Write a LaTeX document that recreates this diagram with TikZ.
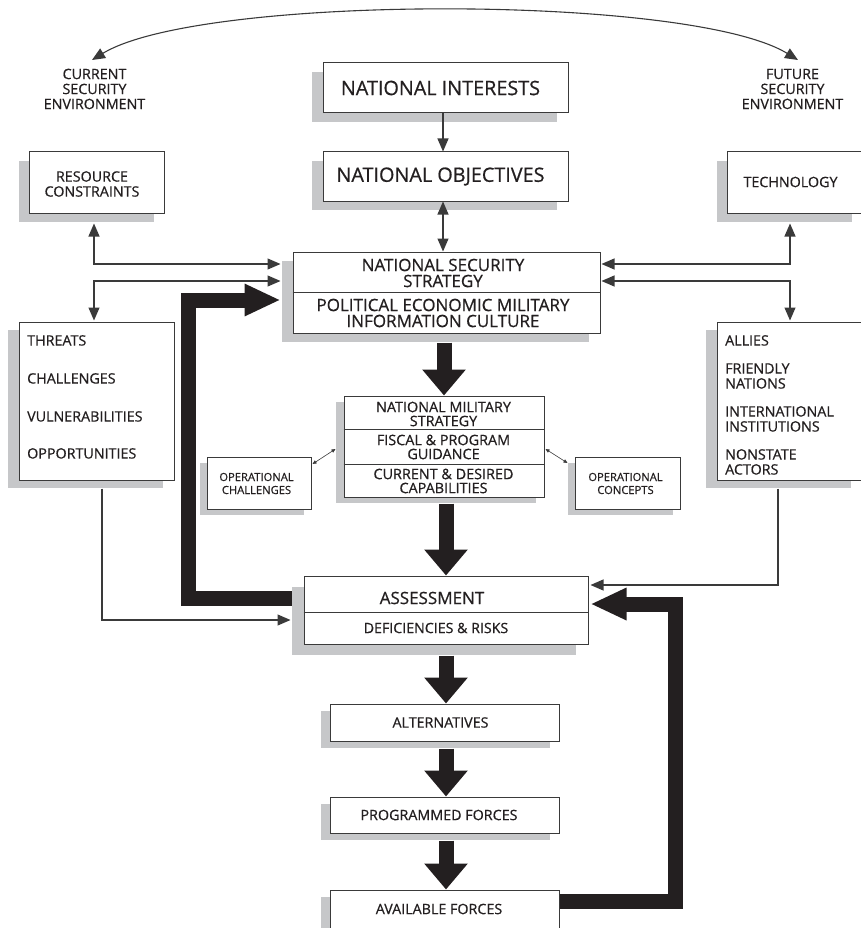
\documentclass[tikz,border=0pt]{standalone}
\usepackage{fontspec}
\setmainfont{Open Sans}[FakeBold=0.6]
\usetikzlibrary{arrows.meta,calc,shadows}
\definecolor{ink}{HTML}{231F20}
\definecolor{linec}{HTML}{3A3A3A}
\definecolor{shade}{HTML}{C6C7C9}
\newcommand\fbig{\fontsize{19.8}{22}\selectfont}
\newcommand\fmid{\fontsize{17}{16}\selectfont}
\newcommand\fsm{\fontsize{14.3}{15}\selectfont}
\newcommand\fnms{\fontsize{14.4}{14}\selectfont}
\newcommand\fdef{\fontsize{14.2}{15}\selectfont}
\newcommand\ftiny{\fontsize{11.2}{13}\selectfont}
\begin{document}
\begin{tikzpicture}[x=1pt,y=-1pt,
  box/.style 2 args={draw=linec,line width=1pt,fill=white,inner sep=0pt,
     drop shadow={shadow xshift=#1,shadow yshift=#2,fill=shade,opacity=1}},
  txt/.style={inner sep=0pt,text=ink,align=center},
  ltxt/.style={inner sep=0pt,text=ink,align=left,anchor=north west},
  divl/.style={draw=linec,line width=1pt},
  thin/.style={draw=linec,line width=1.1pt},
  fat/.style={draw=ink,line width=15pt,line join=miter},
  vhead/.style={-{Triangle[length=26pt,width=42pt]}},
  hhead/.style={-{Triangle[length=36pt,width=30pt]}},
  small/.style={draw=linec,line width=0.6pt,{Triangle[length=4pt,width=3.5pt]}-{Triangle[length=4pt,width=3.5pt]}},
  >={Triangle[length=13pt,width=11pt]}]
\useasboundingbox (0,0) rectangle (861,928);

% ---------- boxes ----------
\node[box={-11pt}{-9pt},minimum width=245pt,minimum height=50pt] (ni) at (445.5,88) {};
\node[box={-11pt}{-9pt},minimum width=245pt,minimum height=49pt] (no) at (445.5,176.5) {};
\node[box={-10pt}{-9pt},minimum width=135pt,minimum height=61pt] (rc) at (96.5,182.5) {};
\node[box={-10pt}{-9pt},minimum width=135pt,minimum height=61pt] (tech) at (794.5,182.5) {};
\node[box={-11pt}{-9pt},minimum width=307pt,minimum height=81pt] (nss) at (446.5,292.5) {};
\node[box={-11pt}{-8pt},minimum width=155pt,minimum height=158pt] (thr) at (96.5,401) {};
\node[box={-11pt}{-8pt},minimum width=145pt,minimum height=158pt] (all) at (789.5,401) {};
\node[box={-7pt}{-6pt},minimum width=104pt,minimum height=52pt] (opc) at (259,483) {};
\node[box={-8pt}{-6pt},minimum width=200pt,minimum height=101pt] (nms) at (444,446.5) {};
\node[box={-7pt}{-6pt},minimum width=105pt,minimum height=52pt] (opn) at (627.5,483) {};
\node[box={-12pt}{-11pt},minimum width=284pt,minimum height=68pt] (ass) at (446,610) {};
\node[box={-9pt}{-7pt},minimum width=229pt,minimum height=37pt] (alt) at (444.5,722.5) {};
\node[box={-9pt}{-7pt},minimum width=229pt,minimum height=36pt] (prog) at (444.5,815) {};
\node[box={-9pt}{-7pt},minimum width=229pt,minimum height=40pt] (avail) at (444.5,910) {};

% ---------- dividers ----------
\draw[divl] (nss.west) -- (nss.east);
\draw[divl] ($(nms.north west)+(0,34)$) -- ($(nms.north east)+(0,34)$);
\draw[divl] ($(nms.north west)+(0,69)$) -- ($(nms.north east)+(0,69)$);
\draw[divl] ($(ass.north west)+(0,37)$) -- ($(ass.north east)+(0,37)$);

% ---------- texts ----------
\node[txt,font=\fsm] (cse) at (94.5,89) {CURRENT\\SECURITY\\ENVIRONMENT};
\node[txt,font=\fsm] (fse) at (792.5,89) {FUTURE\\SECURITY\\ENVIRONMENT};
\node[txt,font=\fbig] (nit) at (440.5,88) {NATIONAL INTERESTS};
\node[txt,font=\fbig] (not) at (440.5,176.5) {NATIONAL OBJECTIVES};
\node[txt,font=\fsm] (rct) at (92,184) {RESOURCE\\CONSTRAINTS};
\node[txt,font=\fsm] (techt) at (790.5,182) {TECHNOLOGY};
\node[txt,font=\fmid] (nss1) at (443,273) {NATIONAL SECURITY\\STRATEGY};
\node[txt,font=\fmid] (nss2) at (443,313) {POLITICAL ECONOMIC MILITARY\\INFORMATION CULTURE};
\node[ltxt,font=\fsm] (thrt) at (27,335) {THREATS\\[23pt]CHALLENGES\\[23pt]VULNERABILITIES\\[22pt]OPPORTUNITIES};
\node[ltxt,font=\fsm] (allt) at (725,335) {ALLIES\\[13pt]FRIENDLY\\NATIONS\\[13pt]INTERNATIONAL\\INSTITUTIONS\\[13pt]NONSTATE\\ACTORS};
\node[txt,font=\fnms] (nms1) at (443.5,414) {NATIONAL MILITARY\\STRATEGY};
\node[txt,font=\fnms] (nms2) at (443.5,447) {FISCAL \& PROGRAM\\GUIDANCE};
\node[txt,font=\fnms] (nms3) at (443.5,481) {CURRENT \& DESIRED\\CAPABILITIES};
\node[txt,font=\ftiny] (opct) at (256.5,483.5) {OPERATIONAL\\CHALLENGES};
\node[txt,font=\ftiny] (opnt) at (625.5,483.5) {OPERATIONAL\\CONCEPTS};
\node[txt,font=\fmid] (ass1) at (432,598) {ASSESSMENT};
\node[txt,font=\fdef] (ass2) at (436,628) {DEFICIENCIES \& RISKS};
\node[txt,font=\fsm] (altt) at (440.5,722.5) {ALTERNATIVES};
\node[txt,font=\fsm] (progt) at (439,815) {PROGRAMMED FORCES};
\node[txt,font=\fsm] (availt) at (439,909) {AVAILABLE FORCES};

% ---------- thin connectors ----------
\coordinate (cL) at (92,60);
\coordinate (cR) at (798,60);
\draw[thin,<->] (cL) .. controls (200,-6) and (690,-6) .. (cR);
\draw[thin,->] ($(ni.south)+(-2.5,0)$) -- ($(no.north)+(-2.5,0)$);
\draw[thin,<->] ($(no.south)+(-2.5,0)$) -- ($(nss.north)+(-3.5,0)$);
\draw[thin,<->] ($(rc.south)+(-2.5,10)$) |- ($(nss.west)+(-12,-28.5)$);
\draw[thin,<->] ($(nss.west)+(-12,-11.5)$) -| ($(thr.north)+(-2.5,-1)$);
\draw[thin,<->] ($(tech.south)+(-4.5,10)$) |- ($(nss.east)+(1,-28.5)$);
\draw[thin,<->] ($(nss.east)+(1,-11.5)$) -| ($(all.north)+(0.5,-1)$);
\draw[thin,->] ($(thr.south)+(5.5,8)$) |- ($(ass.west)+(-13,10)$);
\draw[thin,->] ($(all.south)+(-11.5,8)$) |- ($(ass.east)+(2,-25)$);
\draw[small] ($(nms.west)+(-8,2.5)$) -- ($(opc.east)+(1,-19)$);
\draw[small] ($(nms.east)+(1,2.5)$) -- ($(opn.west)+(-7,-20)$);

% ---------- fat arrows ----------
\draw[fat,vhead] ($(nss.south)+(-2.5,9)$) -- (nms.north);
\draw[fat,vhead] ($(nms.south)+(2,6)$) -- ($(ass.north)+(0,0)$);
\draw[fat,vhead] ($(ass.south)+(0,11)$) -- (ass.south |- alt.north);
\draw[fat,vhead] ($(alt.south)+(1.5,7)$) -- ($(prog.north)+(1.5,0)$);
\draw[fat,vhead] ($(prog.south)+(1.5,7)$) -- ($(avail.north)+(1.5,0)$);
\draw[fat,hhead] ($(ass.west)+(-12,-12)$) -| (188,300) -- ($(nss.west)+(-12,7.5)$);
\draw[fat,hhead] ($(avail.east)+(0,-9)$) -| (675,604) -- ($(ass.east)+(2,-6)$);
\end{tikzpicture}
\end{document}
